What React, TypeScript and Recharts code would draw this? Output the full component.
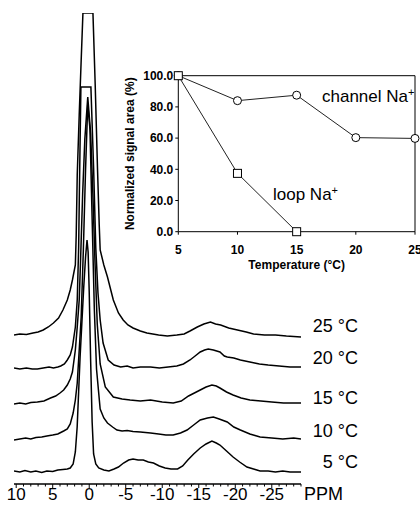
import { Line, LineChart, ReferenceLine, XAxis, YAxis } from 'recharts';

// Stacked 23Na NMR spectra (5-25 °C) with an inset of normalized signal areas.
// Spectrum heights in pixels above each trace's own
// baseline; the stacking offsets are applied when the chart rows are built.

const FONT = '"Liberation Sans", Arial, sans-serif';

// [ppm, height above baseline]
const spec5C: [number, number][] = [
  [10.3, 1], [9.5, 0], [8.8, 1.5], [8, 0], [7.3, 1], [6.5, -0.5], [5.8, 1], [5, 0.5], [4.3, 2], [3.6, 2.5],
  [3, 3], [2.6, 4], [2.2, 8], [1.9, 20], [1.65, 45], [1.45, 80], [1.25, 115], [1.0, 150], [0.75, 185],
  [0.5, 215], [0.3, 232], [0.15, 220], [0, 180], [-0.2, 110], [-0.4, 50], [-0.6, 18], [-0.9, 8], [-1.3, 4],
  [-2, 2], [-2.7, 1], [-3.4, 3], [-4, 5], [-4.7, 9], [-5.4, 12], [-6, 13], [-6.7, 12], [-7.4, 12], [-8.1, 10],
  [-8.8, 9], [-9.6, 6], [-10.4, 4], [-11.2, 3], [-12.1, 3], [-12.8, 6], [-13.5, 12], [-14.3, 18], [-15.2, 24],
  [-16, 28], [-16.8, 31], [-17.4, 29], [-17.9, 27], [-18.8, 21], [-19.7, 15], [-20.6, 10], [-21.6, 5],
  [-22.5, 3], [-23.4, 1], [-24.5, 1], [-25.5, 0], [-26.5, 1], [-27.5, 0], [-29, 0],
];

const spec10C: [number, number][] = [
  [10.3, -1], [9.5, 0], [8.7, 1], [8, 0], [7.3, 1.5], [6.5, 2], [5.8, 3], [5, 4], [4.3, 5], [3.5, 8], [3, 10],
  [2.6, 15], [2.2, 26], [1.9, 39], [1.64, 56], [1.37, 89], [1.1, 122], [0.8, 190], [0.5, 270], [0.2, 335],
  [-0.1, 310], [-0.4, 220], [-0.7, 130], [-1.0, 70], [-1.5, 30], [-2, 21], [-2.5, 16], [-3.2, 12], [-3.8, 9],
  [-4.5, 8], [-5.2, 8.5], [-6, 7.5], [-7, 7], [-8.4, 6], [-9.5, 5], [-10.5, 4], [-11.5, 4], [-12.5, 6],
  [-13.4, 9], [-14.3, 14], [-15.2, 19], [-16.2, 21], [-17, 22], [-17.8, 20], [-18.9, 17], [-19.8, 12],
  [-20.7, 9], [-22, 5], [-23.4, 2], [-25, 1], [-26.5, 0], [-28, 1], [-29, 0],
];

const spec15C: [number, number][] = [
  [10.3, 0], [9.5, 1], [8.7, 0], [8, 1.5], [7.1, 2], [6.2, 3], [5.3, 6], [4.6, 8], [4.0, 11], [3.5, 14],
  [3.0, 19], [2.6, 25], [2.3, 32], [1.9, 54], [1.64, 77], [1.37, 104], [1.2, 140], [0.9, 210], [0.6, 265],
  [0.2, 307], [-0.2, 270], [-0.5, 210], [-0.8, 140], [-1.1, 80], [-1.5, 40], [-2.2, 17], [-3.3, 7],
  [-4.5, 5], [-5.6, 4], [-7, 3], [-8.4, 4], [-10, 2], [-11.5, 1], [-12.6, 3], [-13.6, 8], [-14.4, 11],
  [-15.2, 14], [-16, 17], [-16.8, 19], [-17.4, 18], [-17.9, 16], [-18.8, 12], [-19.7, 9], [-20.8, 6],
  [-22, 4], [-23.5, 3], [-25, 2], [-26.6, 1], [-28, 1], [-29, 1],
];

const spec20C: [number, number][] = [
  [10.3, 0], [9.5, -1], [8.6, 0], [7.8, -1], [7.1, -1], [6.3, 0], [5.5, 1], [4.9, 0], [4.3, 1], [3.9, 2],
  [3.4, 4], [3.0, 8], [2.6, 13], [2.3, 21], [1.9, 41], [1.64, 68], [1.45, 120], [1.3, 200], [1.14, 281],
  [-0.23, 281], [-0.6, 200], [-0.9, 120], [-1.2, 75], [-1.5, 48], [-1.9, 25], [-2.6, 8], [-3.4, 3],
  [-4.3, 1], [-5.2, 2], [-6, 0], [-7, 1], [-8.4, 1], [-9.6, 0], [-10.8, 1], [-12, 2], [-12.9, 4], [-13.8, 8],
  [-14.5, 12], [-15.2, 16], [-15.8, 18], [-16.3, 19], [-17, 18], [-17.9, 16], [-18.5, 12], [-18.9, 11],
  [-19.8, 10], [-20.7, 8], [-22, 6], [-23.3, 4], [-24.5, 3], [-26, 2], [-27.5, 1], [-29, 1],
];

const spec25C: [number, number][] = [
  [10.3, 0], [9.5, 1], [8.6, 0.5], [7.7, 2], [7, 3], [6.3, 5], [5.6, 8], [4.9, 12], [4.2, 17], [3.6, 25],
  [3.0, 35], [2.6, 45], [2.3, 55], [1.9, 70], [1.78, 100], [1.64, 160], [1.37, 220], [1.1, 275], [0.86, 322],
  [-0.51, 322], [-0.82, 250], [-1.14, 165], [-1.37, 110], [-1.5, 85], [-2, 70], [-2.5, 58], [-3.3, 35],
  [-4, 22], [-4.65, 15], [-5.3, 10], [-6, 7], [-7, 4], [-7.9, 2], [-9.5, 0], [-10.7, -1], [-12, 0],
  [-13, 1], [-13.8, 4], [-14.8, 8], [-15.7, 11], [-16.6, 13], [-17.3, 11], [-18, 10], [-19.1, 7],
  [-20.3, 5], [-21.5, 3], [-22.5, 1], [-24, 0], [-25.5, 0], [-27, -1], [-29, -2],
];

const tempLabels = ['5 °C', '10 °C', '15 °C', '20 °C', '25 °C'];

const ppmTicks = [
  10, 9, 8, 7, 6, 5, 4, 3, 2, 1, 0, -1, -2, -3, -4, -5, -6, -7, -8, -9, -10, -11, -12, -13, -14, -15,
  -16, -17, -18, -19, -20, -21, -22, -23, -24, -25, -26, -27, -28, -29,
];
const ppmLabelled = [10, 5, 0, -5, -10, -15, -20, -25];

// inset
const temps = [5, 10, 15, 20, 25];
const channelNa = [100, 84, 87.5, 60.3, 59.8];
const loopNa = [100, 37.4, 0];
const insetYTicks = [0, 20, 40, 60, 80, 100];

// layout: baseline of each trace, in plot units (1 unit = 1px)
const spectra = [spec5C, spec10C, spec15C, spec20C, spec25C];
const offsets = [12, 45, 80, 116, 149];
const labelBaselines = [468, 436.5, 404, 363.5, 331.5];

const insetData = temps.map((t, i) => ({ t, channel: channelNa[i], loop: loopNa[i] }));

function PpmTick(props: any) {
  const { x, y, payload } = props;
  const major = ppmLabelled.includes(payload.value);
  return (
    <g>
      <line x1={x} x2={x} y1={y} y2={y + (major ? 4 : 2.5)} stroke="#000" strokeWidth={1} />
      {major && (
        <text x={x} y={y + 16} textAnchor="middle" fontSize={17} fontFamily={FONT} fill="#000">
          {payload.value}
        </text>
      )}
    </g>
  );
}

function SquareDot(props: any) {
  const { cx, cy } = props;
  if (cx == null || cy == null) return null;
  return <rect x={cx - 4} y={cy - 4} width={8} height={8} fill="#fff" stroke="#000" strokeWidth={1} />;
}

export default function App() {
  return (
    <div style={{ position: 'absolute', left: 0, top: 0, width: 420, height: 508, background: '#fff', fontFamily: FONT }}>
      <div style={{ position: 'absolute', left: 0, top: 0 }}>
        <LineChart width={420} height={508} margin={{ top: 13, right: 119, bottom: 0, left: 14 }}>
          <XAxis
            type="number"
            dataKey="ppm"
            domain={[-29, 10.3]}
            reversed
            allowDataOverflow
            ticks={ppmTicks}
            interval={0}
            tickLine={false}
            tickSize={0}
            tickMargin={0}
            height={24}
            axisLine={{ stroke: '#000', strokeWidth: 1.3 }}
            tick={<PpmTick />}
          />
          <YAxis type="number" domain={[0, 471]} hide allowDataOverflow />
          {spectra.map((s, i) => (
            <Line
              key={tempLabels[i]}
              data={s.map(([ppm, h]) => ({ ppm, v: h + offsets[i] }))}
              dataKey="v"
              type="linear"
              stroke="#000"
              strokeWidth={1.5}
              dot={false}
              isAnimationActive={false}
            />
          ))}
        </LineChart>
      </div>

      <svg width={420} height={508} style={{ position: 'absolute', left: 0, top: 0, pointerEvents: 'none' }}>
        {tempLabels.map((t, i) => (
          <text key={t} x={358} y={labelBaselines[i]} textAnchor="end" fontSize={18} fontFamily={FONT} fill="#000">
            {t}
          </text>
        ))}
        <text x={304} y={500} fontSize={18} fontFamily={FONT} fill="#000">
          PPM
        </text>
        <text x={322} y={101.5} fontSize={17} fontFamily={FONT} fill="#000">
          channel Na<tspan dy={-6} fontSize={11}>+</tspan>
        </text>
        <text x={273} y={200} fontSize={17} fontFamily={FONT} fill="#000">
          loop Na<tspan dy={-6} fontSize={11}>+</tspan>
        </text>
      </svg>

      <div style={{ position: 'absolute', left: 110, top: 50 }}>
        <LineChart width={310} height={230} data={insetData} margin={{ top: 25.7, right: 5, bottom: 0, left: 14 }}>
          <XAxis
            type="number"
            dataKey="t"
            domain={[5, 25]}
            ticks={temps}
            interval={0}
            height={48.3}
            tickSize={3}
            tickMargin={11}
            axisLine={{ stroke: '#000' }}
            tickLine={{ stroke: '#000' }}
            tick={{ fontSize: 12, fontWeight: 'bold', fill: '#000', fontFamily: FONT }}
            label={{
              value: 'Temperature (°C)',
              position: 'insideBottom',
              offset: 11,
              style: { fontSize: 12, fontWeight: 'bold', fill: '#000', fontFamily: FONT },
            }}
          />
          <YAxis
            type="number"
            domain={[0, 100]}
            ticks={insetYTicks}
            interval={0}
            width={54.3}
            tickSize={3}
            tickMargin={2}
            axisLine={{ stroke: '#000' }}
            tickLine={{ stroke: '#000' }}
            tickFormatter={(v: number) => v.toFixed(1)}
            tick={{ fontSize: 12, fontWeight: 'bold', fill: '#000', fontFamily: FONT }}
            label={{
              value: 'Normalized signal area (%)',
              angle: -90,
              position: 'insideLeft',
              offset: 6,
              style: { textAnchor: 'middle', fontSize: 12, fontWeight: 'bold', fill: '#000', fontFamily: FONT },
            }}
          />
          <ReferenceLine y={100} stroke="#000" />
          <ReferenceLine x={25} stroke="#000" />
          <Line
            dataKey="channel"
            type="linear"
            stroke="#222"
            strokeWidth={1}
            dot={{ r: 4, fill: '#fff', stroke: '#000', strokeWidth: 1 }}
            isAnimationActive={false}
          />
          <Line
            dataKey="loop"
            type="linear"
            stroke="#222"
            strokeWidth={1}
            dot={<SquareDot />}
            isAnimationActive={false}
          />
        </LineChart>
      </div>
    </div>
  );
}
